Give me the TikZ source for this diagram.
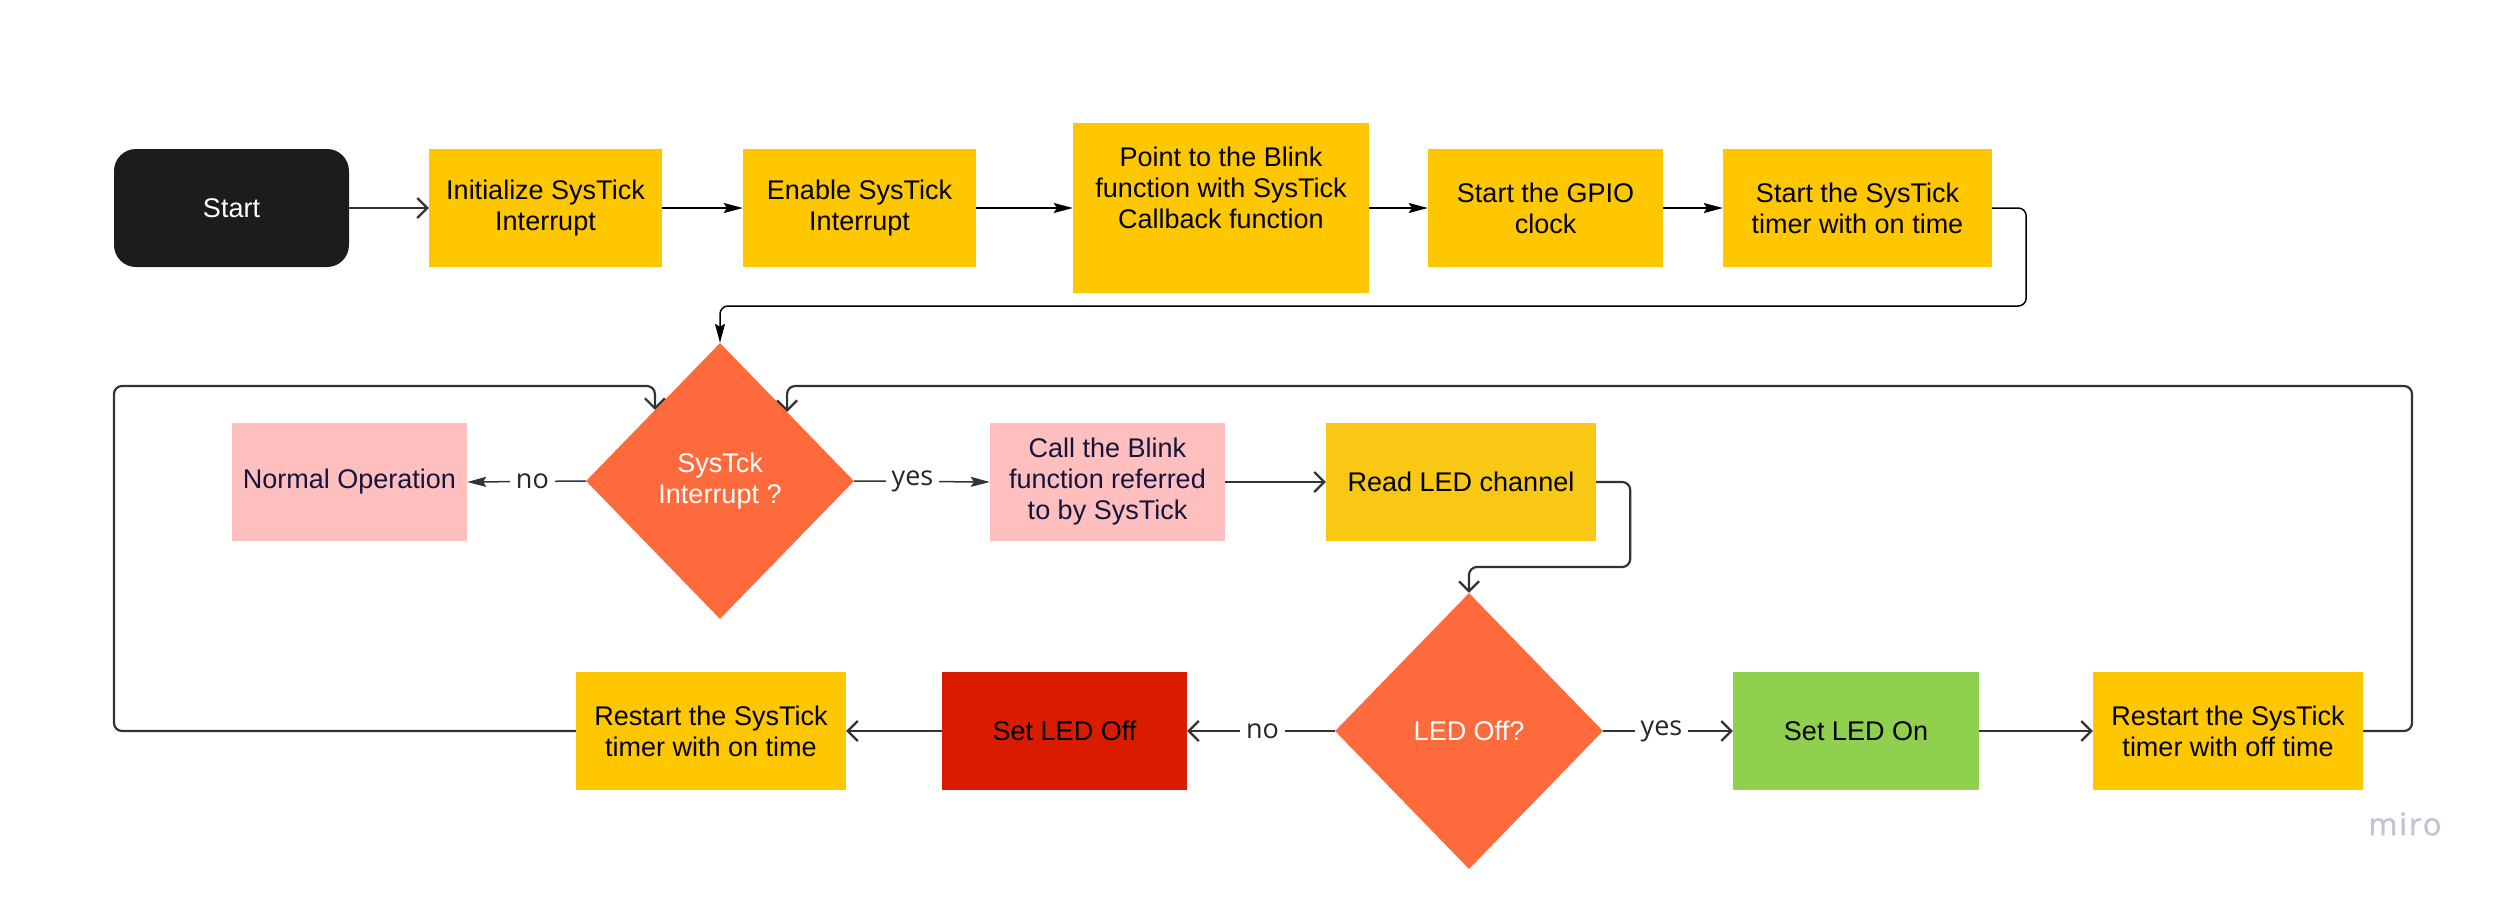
\documentclass[tikz,border=0pt]{standalone}
\usepackage{fontspec}
\setmainfont{Liberation Sans}
\newfontfamily\lblfont{Open Sans}
\newfontfamily\mirofont[LetterSpace=6,FakeBold=1.2]{Open Sans}
\usetikzlibrary{shapes.geometric,arrows.meta,calc}
\definecolor{startfill}{HTML}{1C1C1C}
\definecolor{yel}{HTML}{FFC700}
\definecolor{yel2}{HTML}{F8C815}
\definecolor{orng}{HTML}{FF6A3D}
\definecolor{pnk}{HTML}{FFBFBF}
\definecolor{redbox}{HTML}{D91B00}
\definecolor{grn}{HTML}{8FD14F}
\definecolor{linec}{HTML}{333333}
\definecolor{navytext}{HTML}{14143C}
\definecolor{mirogray}{HTML}{C2C2D6}
\begin{document}
\begin{tikzpicture}[x=1pt,y=-1pt,
  box/.style={rectangle, minimum height=118pt, inner sep=4pt, align=center,
    font=\fontsize{27}{31}\selectfont, text=black},
  dia/.style={diamond, shape aspect=0.97, minimum width=268pt, minimum height=276pt,
    inner sep=0pt, fill=orng, text=white, align=center, font=\fontsize{27}{31}\selectfont},
  fillarr/.style={draw=black, line width=1.5pt, -{Stealth[length=19pt,width=10pt,inset=3pt]}},
  openarr/.style={draw=linec, line width=2.2pt, -{Straight Barb[length=10pt,width=20pt]}},
  lbl/.style={fill=white, inner sep=6pt, text=black!85, font=\lblfont\fontsize{27}{30}\selectfont}]
\useasboundingbox (0,0) rectangle (2503,898);

% top row
\node[box, rounded corners=22pt, fill=startfill, text=white, minimum width=235pt] (start) at (231.5,208) {Start};
\node[box, fill=yel, minimum width=233pt] (init) at (545.5,208) {Initialize SysTick\\Interrupt};
\node[box, fill=yel, minimum width=233pt] (enable) at (859.5,208) {Enable SysTick\\Interrupt};
\node[box, fill=yel, minimum width=296pt, minimum height=170pt] (point) at (1221,208) {Point to the Blink\\function with SysTick\\Callback function\\\strut};
\node[box, fill=yel, minimum width=235pt] (gpio) at (1545.5,208) {Start the GPIO\\clock};
\node[box, fill=yel, minimum width=269pt] (tstart) at (1857.5,208) {Start the SysTick\\timer with on time};

% middle row
\node[dia] (d1) at (720,481) {SysTck\\Interrupt ?};
\node[box, fill=pnk, text=navytext, minimum width=235pt] (normal) at (349.5,482) {Normal Operation};
\node[box, fill=pnk, text=navytext, minimum width=235pt] (call) at (1107.5,482) {Call the Blink\\function referred\\to by SysTick};
\node[box, fill=yel2, minimum width=270pt] (read) at (1461,482) {Read LED channel};

% bottom row
\node[dia] (d2) at (1469,731) {LED Off?};
\node[box, fill=yel, minimum width=270pt] (resOn) at (711,731) {Restart the SysTick\\timer with on time};
\node[box, fill=redbox, minimum width=245pt] (setOff) at (1064.5,731) {Set LED Off};
\node[box, fill=grn, minimum width=246pt] (setOn) at (1856,731) {Set LED On};
\node[box, fill=yel, minimum width=270pt] (resOff) at (2228,731) {Restart the SysTick\\timer with off time};

% logo
\node[text=mirogray, font=\mirofont\fontsize{31}{34}\selectfont, inner sep=0pt] (miro) at (2405,824) {miro};

% helper coordinates
\coordinate (loopL) at (114,386);
\coordinate (loopR) at (2412,386);
\coordinate (inL) at ($(d1.north)!0.485!(d1.west)$);
\coordinate (inR) at ($(d1.north)!0.5!(d1.east)$);

% connectors
\draw[openarr] (start.east) -- (init.west);
\draw[fillarr] (init.east) -- (enable.west);
\draw[fillarr] (enable.east) -- (point.west);
\draw[fillarr] (point.east) -- (gpio.west);
\draw[fillarr] (gpio.east) -- (tstart.west);
\draw[fillarr, rounded corners=8pt] (tstart.east) -- ++(34,0) -- ++(0,98) -| (d1.north);

\draw[fillarr, draw=linec] (d1.west) -- node[lbl, pos=0.45] {no} (normal.east);
\draw[fillarr, draw=linec] (d1.east) -- node[lbl, pos=0.43] {yes} (call.west);
\draw[openarr] (call.east) -- (read.west);
\draw[openarr, rounded corners=8pt] (read.east) -- ++(34,0) -- ++(0,85) -| (d2.north);

\draw[openarr] (d2.west) -- node[lbl, pos=0.49] {no} (setOff.east);
\draw[openarr] (setOff.west) -- (resOn.east);
\draw[openarr] (d2.east) -- node[lbl, pos=0.45] {yes} (setOn.west);
\draw[openarr] (setOn.east) -- (resOff.west);

\draw[openarr, rounded corners=8pt] (resOn.west) -| (loopL) -| (inL);
\draw[openarr, rounded corners=8pt] (resOff.east) -| (loopR) -| (inR);
\end{tikzpicture}
\end{document}
